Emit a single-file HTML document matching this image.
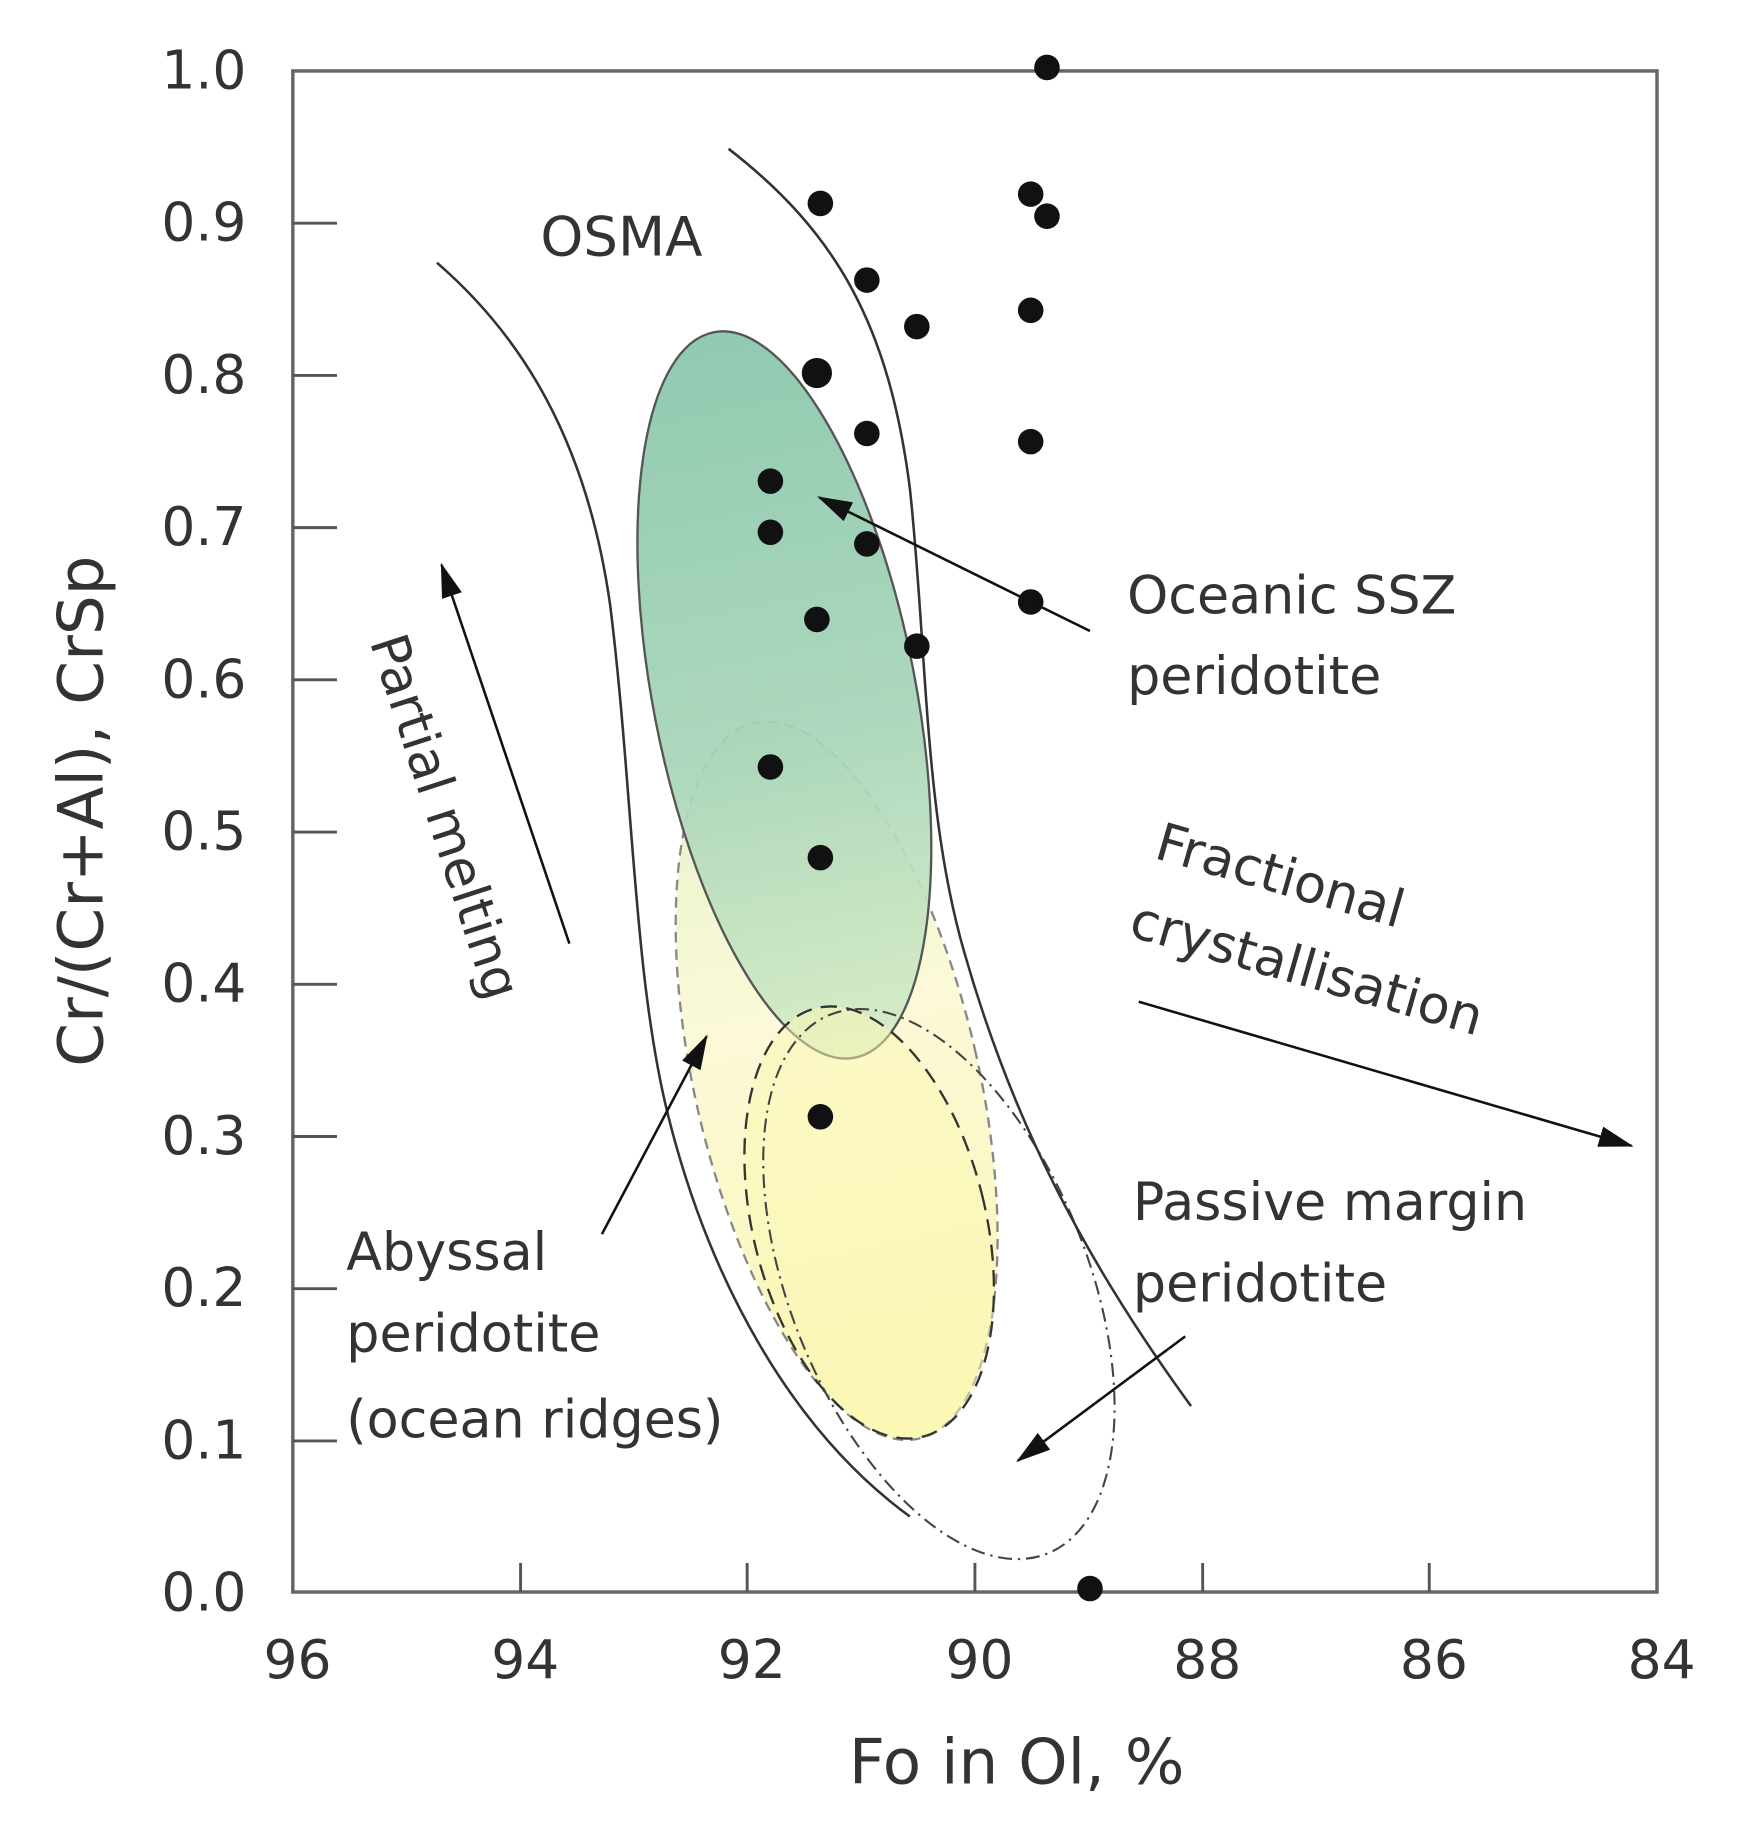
<!DOCTYPE html>
<html><head><meta charset="utf-8"><style>html,body{margin:0;padding:0;background:#fff}svg{display:block}</style></head>
<body>
<svg width="1743" height="1821" viewBox="0 0 1500 1567" xmlns="http://www.w3.org/2000/svg" font-family="DejaVu Sans, Liberation Sans, sans-serif" fill="#222">
<defs>
<linearGradient id="g1" x1="0" y1="0" x2="0" y2="1"><stop offset="0" stop-color="#86c6aa"/><stop offset="0.55" stop-color="#a6d4b8"/><stop offset="1" stop-color="#d6ecc6"/></linearGradient>
<linearGradient id="g2" x1="0" y1="0" x2="0" y2="1"><stop offset="0" stop-color="#e6f2cc"/><stop offset="0.4" stop-color="#fbf9d8"/><stop offset="1" stop-color="#fbf6b4"/></linearGradient>
<marker id="ah" markerWidth="30" markerHeight="18" refX="28" refY="9" orient="auto" markerUnits="userSpaceOnUse" viewBox="0 0 30 18"><path d="M0,0 L30,9 L0,18 z" fill="#111"/></marker>
</defs>
<ellipse cx="720" cy="930" rx="122" ry="316" transform="rotate(-13 720 930)" fill="url(#g2)" stroke="#888" stroke-width="2" stroke-dasharray="9,6"/>
<ellipse cx="675" cy="598" rx="113" ry="318" transform="rotate(-11 675 598)" fill="url(#g1)" fill-opacity="0.92" stroke="#555" stroke-width="2"/>
<ellipse cx="748" cy="1052" rx="100" ry="190" transform="rotate(-14 748 1052)" fill="#fcf7b4" fill-opacity="0.5" stroke="#333" stroke-width="2" stroke-dasharray="14,8"/>
<ellipse cx="808" cy="1105" rx="128" ry="250" transform="rotate(-22 808 1105)" fill="none" stroke="#444" stroke-width="1.8" stroke-dasharray="12,5,2,5"/>
<path d="M376,226 C450,290 505,380 525,520 C545,680 545,840 575,960 C610,1100 680,1230 783,1305" fill="none" stroke="#333" stroke-width="2.2"/>
<path d="M627,128 C720,200 765,280 783,420 C798,560 795,700 830,820 C870,960 930,1080 1025,1210" fill="none" stroke="#333" stroke-width="2.2"/>
<rect x="252" y="61" width="1174" height="1309" fill="none" stroke="#666" stroke-width="3"/>
<g stroke="#555" stroke-width="2.5">
<line x1="448" y1="1370" x2="448" y2="1345"/><line x1="643" y1="1370" x2="643" y2="1345"/><line x1="839" y1="1370" x2="839" y2="1345"/><line x1="1035" y1="1370" x2="1035" y2="1345"/><line x1="1230" y1="1370" x2="1230" y2="1345"/>
<line x1="252" y1="192" x2="290" y2="192"/><line x1="252" y1="323" x2="290" y2="323"/><line x1="252" y1="454" x2="290" y2="454"/><line x1="252" y1="585" x2="290" y2="585"/><line x1="252" y1="716" x2="290" y2="716"/><line x1="252" y1="847" x2="290" y2="847"/><line x1="252" y1="978" x2="290" y2="978"/><line x1="252" y1="1109" x2="290" y2="1109"/><line x1="252" y1="1240" x2="290" y2="1240"/>
</g>
<g font-size="46" text-anchor="end" fill="#333">
<text x="212" y="76">1.0</text><text x="212" y="207">0.9</text><text x="212" y="338">0.8</text><text x="212" y="469">0.7</text><text x="212" y="600">0.6</text><text x="212" y="731">0.5</text><text x="212" y="862">0.4</text><text x="212" y="993">0.3</text><text x="212" y="1124">0.2</text><text x="212" y="1255">0.1</text><text x="212" y="1386">0.0</text>
</g>
<g font-size="46" text-anchor="middle" fill="#333">
<text x="256" y="1444">96</text><text x="452" y="1444">94</text><text x="647" y="1444">92</text><text x="843" y="1444">90</text><text x="1039" y="1444">88</text><text x="1234" y="1444">86</text><text x="1430" y="1444">84</text>
<text x="875" y="1535" font-size="54">Fo in Ol, %</text>
<text transform="translate(88 698) rotate(-90)" font-size="54">Cr/(Cr+Al), CrSp</text>
</g>
<g fill="#111">
<circle cx="901" cy="58" r="11"/><circle cx="706" cy="175" r="11"/><circle cx="887" cy="167" r="11"/><circle cx="901" cy="186" r="11"/><circle cx="746" cy="241" r="11"/><circle cx="789" cy="281" r="11"/><circle cx="887" cy="267" r="11"/><circle cx="703" cy="321" r="13"/><circle cx="746" cy="373" r="11"/><circle cx="887" cy="380" r="11"/><circle cx="663" cy="414" r="11"/><circle cx="663" cy="458" r="11"/><circle cx="746" cy="468" r="11"/><circle cx="887" cy="518" r="11"/><circle cx="703" cy="533" r="11"/><circle cx="789" cy="556" r="11"/><circle cx="663" cy="660" r="11"/><circle cx="706" cy="738" r="11"/><circle cx="706" cy="961" r="11"/><circle cx="938" cy="1367" r="11"/>
</g>
<g stroke="#111" stroke-width="2.2" marker-end="url(#ah)">
<line x1="490" y1="812" x2="380" y2="486"/>
<line x1="938" y1="543" x2="705" y2="428"/>
<line x1="980" y1="862" x2="1404" y2="986"/>
<line x1="1020" y1="1150" x2="876" y2="1257"/>
<line x1="518" y1="1062" x2="608" y2="892"/>
</g>
<g font-size="45" fill="#333">
<text x="465" y="220" font-size="47">OSMA</text>
<text x="970" y="528">Oceanic SSZ</text><text x="970" y="597">peridotite</text>
<text x="975" y="1050">Passive margin</text><text x="975" y="1120">peridotite</text>
<text x="298" y="1093">Abyssal</text><text x="298" y="1163">peridotite</text><text x="298" y="1237">(ocean ridges)</text>
<text transform="translate(992 738) rotate(16)">Fractional</text>
<text transform="translate(970 805) rotate(16)">crystallisation</text>
<text transform="translate(318 552) rotate(72)">Partial melting</text>
</g>
</svg>
</body></html>
